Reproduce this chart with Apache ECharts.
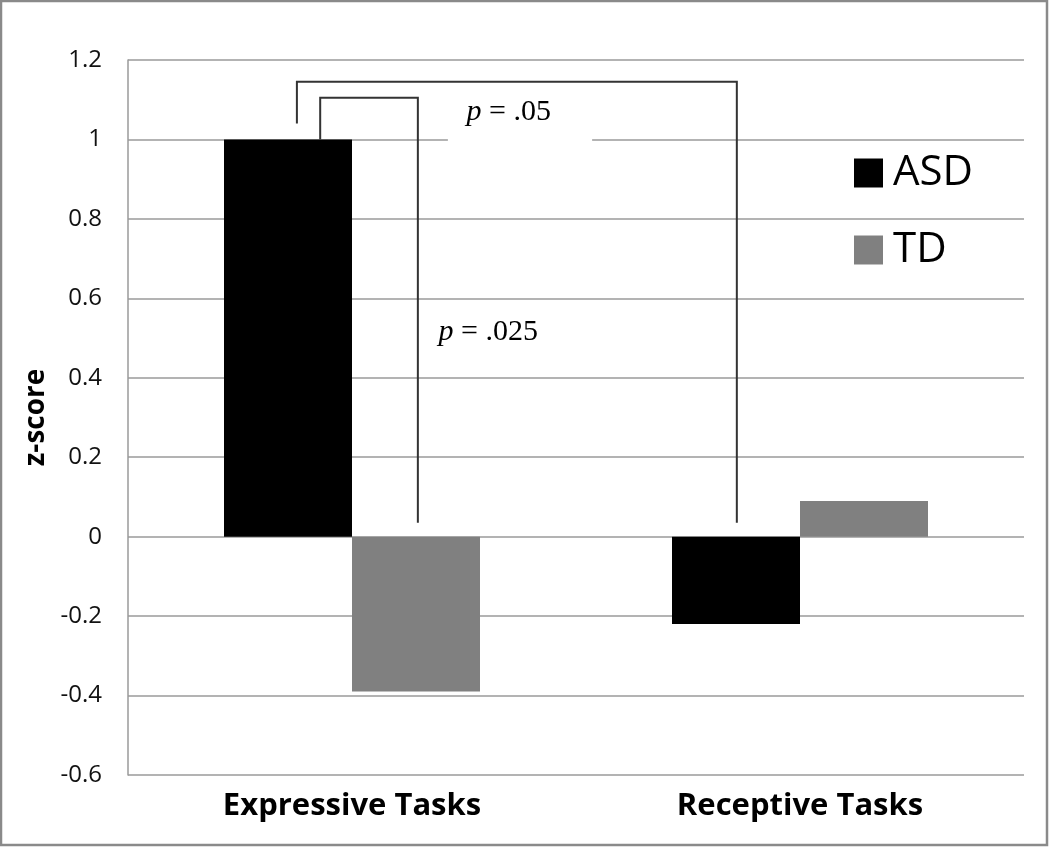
<!DOCTYPE html>
<html>
<head>
<meta charset="utf-8">
<script src="https://cdn.jsdelivr.net/npm/echarts@6/dist/echarts.min.js"></script>
<style>
  html, body { margin: 0; padding: 0; background: #fff; }
  #chart { width: 1050px; height: 848px; }
</style>
</head>
<body>
<div id="chart"></div>
<script>
// chart data
var categories = ['Expressive Tasks', 'Receptive Tasks'];
var asdValues = [1.0, -0.22];
var tdValues = [-0.39, 0.09];
var yMin = -0.6, yMax = 1.2, yStep = 0.2;

// significance brackets: [category, offset in band, value]
var bracketFrom = [[0, -0.123, 1.04], [0, -0.071, 1.0]];
var bracketTo = [[1, -0.141, 0.035], [0, 0.147, 0.035]];
var bracketTop = [1.145, 1.105];
var pLabels = ['{i|p}{n| = .05}', '{i|p}{n| = .025}'];
var pLabelAt = [[0, 0.35, 1.068], [0, 0.304, 0.516]];
// white box behind the first label: [cat, offsetL, offsetR, yLow, yHigh]
var pMask = [[0, 0.214, 0.536, 0.992, 1.11], null];

var chart = echarts.init(document.getElementById('chart'));

function renderBracket(params, api) {
    var i = api.value(2);
    var band = api.size([1, 0])[0];
    function pt(cat, off, v) {
        var p = api.coord([cat, v]);
        return [p[0] + off * band, p[1]];
    }
    var f = bracketFrom[i], t = bracketTo[i];
    var points = [
        pt(f[0], f[1], f[2]),
        pt(f[0], f[1], bracketTop[i]),
        pt(t[0], t[1], bracketTop[i]),
        pt(t[0], t[1], t[2])
    ];
    var children = [];
    if (pMask[i]) {
        var m = pMask[i];
        var a = pt(m[0], m[1], m[4]);
        var b = pt(m[0], m[2], m[3]);
        children.push({
            type: 'rect',
            shape: { x: a[0], y: a[1], width: b[0] - a[0], height: b[1] - a[1] },
            style: { fill: '#fff' }
        });
    }
    children.push({
        type: 'polyline',
        shape: { points: points },
        style: { stroke: '#333', lineWidth: 2, fill: null }
    });
    var lp = pt(pLabelAt[i][0], pLabelAt[i][1], pLabelAt[i][2]);
    children.push({
        type: 'text',
        style: {
            text: pLabels[i],
            x: lp[0],
            y: lp[1],
            align: 'center',
            verticalAlign: 'middle',
            fontFamily: 'Liberation Serif',
            fontSize: 30,
            fill: '#000',
            rich: {
                i: { fontStyle: 'italic', fontFamily: 'Liberation Serif', fontSize: 30, fill: '#000' },
                n: { fontFamily: 'Liberation Serif', fontSize: 30, fill: '#000' }
            }
        }
    });
    return { type: 'group', children: children };
}

var option = {
    animation: false,
    backgroundColor: '#fff',
    graphic: [{
        type: 'rect',
        shape: { x: 1, y: 1, width: 1046, height: 844 },
        style: { fill: 'none', stroke: '#8a8a8a', lineWidth: 2.5 },
        z: 100
    }],
    grid: { left: 128, right: 26, top: 60, bottom: 73 },
    legend: {
        data: ['ASD', 'TD'],
        orient: 'vertical',
        left: 849,
        top: 147,
        itemWidth: 29,
        itemHeight: 29,
        itemGap: 35,
        icon: 'rect',
        textStyle: {
            fontFamily: 'Open Sans',
            fontSize: 42,
            lineHeight: 42,
            color: '#000',
            padding: [0, 0, 0, 5]
        }
    },
    xAxis: {
        type: 'category',
        data: categories,
        axisLine: { show: false, onZero: false },
        axisTick: { show: false },
        axisLabel: {
            margin: 16,
            color: '#000',
            fontFamily: 'Open Sans',
            fontWeight: 'bold',
            fontSize: 31
        }
    },
    yAxis: {
        type: 'value',
        min: yMin,
        max: yMax,
        interval: yStep,
        name: 'z-score',
        nameLocation: 'middle',
        nameRotate: 90,
        nameGap: 76,
        nameTextStyle: {
            fontFamily: 'Open Sans',
            fontWeight: 'bold',
            fontSize: 28,
            color: '#000'
        },
        axisLine: { show: true, lineStyle: { color: '#9a9a9a', width: 1.5 } },
        axisTick: { show: false },
        axisLabel: {
            margin: 26,
            color: '#111',
            fontFamily: 'Open Sans',
            fontSize: 24,
            formatter: function (v) { return String(Math.round(v * 10) / 10); }
        },
        splitLine: { show: true, lineStyle: { color: '#9a9a9a', width: 1.5 } }
    },
    series: [{
        name: 'ASD',
        type: 'bar',
        data: asdValues,
        barWidth: 128,
        barGap: '0%',
        itemStyle: { color: '#000' }
    }, {
        name: 'TD',
        type: 'bar',
        data: tdValues,
        barWidth: 128,
        barGap: '0%',
        itemStyle: { color: '#808080' }
    }, {
        name: 'brackets',
        type: 'custom',
        renderItem: renderBracket,
        encode: { x: 0, y: 1 },
        data: bracketTop.map(function (t, i) { return [0, t, i]; }),
        z: 5,
        silent: true
    }]
};

chart.setOption(option);
</script>
</body>
</html>
